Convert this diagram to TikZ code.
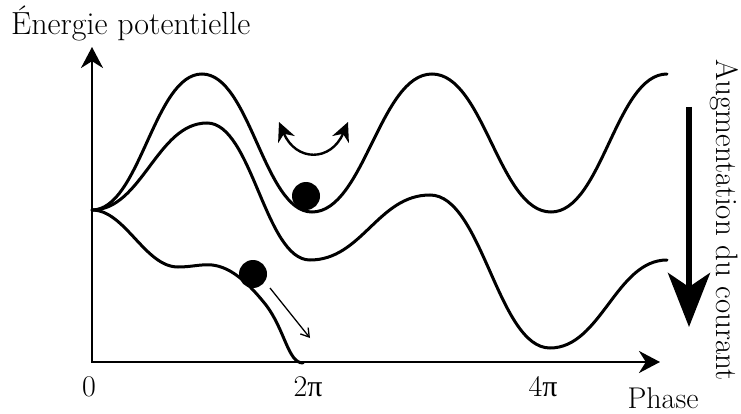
\documentclass[tikz,border=0pt]{standalone}
\usepackage{fontspec}
\newfontfamily\grecfont{Liberation Serif}
\usetikzlibrary{arrows.meta}
\newcommand{\ppi}{{\grecfont π}}
\begin{document}
\begin{tikzpicture}[x=1pt,y=-1pt,
  every node/.style={font=\fontsize{30}{36}\selectfont,inner sep=0pt},
  grand/.style={font=\fontsize{32}{38}\selectfont},
  courbe/.style={line width=3pt,line cap=round},
  axe/.style={line width=2.8pt,{Stealth[length=21pt,width=22pt]}-{Stealth[length=21pt,width=22pt]}},
  bille/.style={circle,fill=black,minimum size=28pt}]
\useasboundingbox (0,0) rectangle (741,414);
% axes
\coordinate (O) at (92,362);
\coordinate (ytop) at (92,47);
\coordinate (xend) at (660,362);
\draw[axe] (ytop) -- (O) -- (xend);
\node[grand,anchor=base west] (ylab) at (11,35) {Énergie potentielle};
\node[anchor=base] (xlab) at (663,408) {Phase};
\node (t0) at (89,387) {0};
\node (t2) at (308,387) {2\ppi};
\node (t4) at (543,387) {4\ppi};
% potentiel sans courant
\draw[courbe] (92,210) .. controls (140,210) and (154,74) .. (202,74)
  .. controls (250,74) and (264,212) .. (312,212)
  .. controls (364,212) and (380,74) .. (432,74)
  .. controls (484,74) and (499,212) .. (551,212)
  .. controls (602,212) and (616,74) .. (667,74);
% potentiel incline
\draw[courbe] (92,210) .. controls (142,210) and (157,123) .. (207,123)
  .. controls (252,123) and (265,260) .. (310,260)
  .. controls (362,260) and (378,195) .. (430,195)
  .. controls (482,195) and (498,348) .. (550,348)
  .. controls (601,348) and (616,260) .. (667,260);
% courant critique
\draw[courbe] (92,210) .. controls (125,210) and (145,267) .. (178,267)
  .. controls (192,267) and (200,264) .. (212,265)
  .. controls (232,267) and (250,285) .. (266,305)
  .. controls (285,330) and (288,363) .. (303,363);
% billes
\node[bille] (b1) at (306,196) {};
\node[bille] (b2) at (253,274) {};
\coordinate (osc-g) at (279,122);
\coordinate (osc-d) at (348,122);
\draw[line width=2.4pt,{Stealth[length=19pt,width=18pt]}-{Stealth[length=19pt,width=18pt]}]
  (osc-g) .. controls (296,162) and (331,162) .. (osc-d);
\coordinate (ech-a) at (270,288);
\coordinate (ech-b) at (310,338);
\draw[line width=1.3pt,-{Straight Barb[length=8pt,width=10pt]}] (ech-a) -- (ech-b);
% augmentation du courant
\coordinate (c1) at (689,107);
\coordinate (c2) at (689,327);
\draw[line width=6pt,-{Stealth[length=54pt,width=42pt,inset=14pt]}] (c1) -- (c2);
\node[font=\fontsize{31}{37}\selectfont,rotate=-90,anchor=base] (clab) at (716,220) {Augmentation du courant};
\end{tikzpicture}
\end{document}
